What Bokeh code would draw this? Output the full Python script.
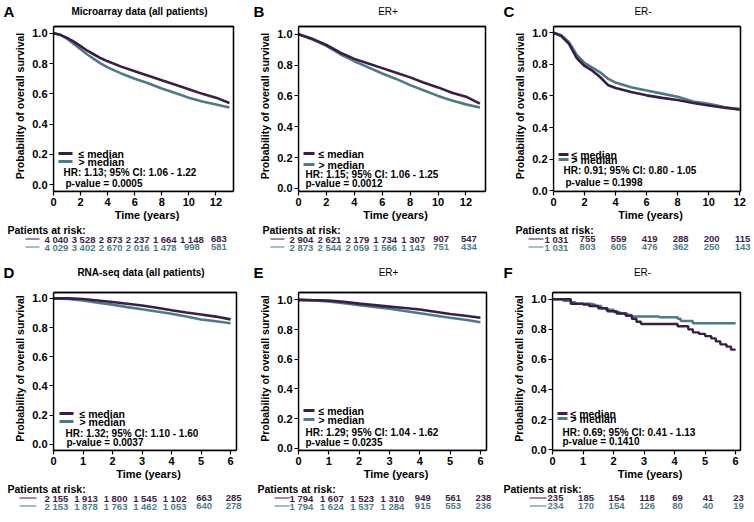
from bokeh.plotting import figure
from bokeh.layouts import row, column
from bokeh.models import Range1d, FixedTicker, NumeralTickFormatter, BoxAnnotation
from bokeh.core.properties import value
from bokeh.embed import file_html
from bokeh.resources import INLINE

PURPLE = "#3b1d48"
TEAL = "#4b7b8a"
FONT = "Liberation Sans"

# ---------------- data ----------------
# A: Microarray data (all patients)
a_time = [0, 0.5, 1, 1.5, 2, 2.5, 3, 3.5, 4, 5, 6, 7, 8, 9, 10, 11, 12, 13]
a_low = [1.0, 0.99, 0.97, 0.945, 0.915, 0.885, 0.86, 0.835, 0.815, 0.78, 0.75, 0.72, 0.69, 0.66, 0.63, 0.60, 0.575, 0.54]
a_high = [1.0, 0.99, 0.965, 0.93, 0.895, 0.86, 0.83, 0.80, 0.775, 0.735, 0.70, 0.67, 0.635, 0.605, 0.575, 0.55, 0.53, 0.51]
a_risk_times = [0, 2, 4, 6, 8, 10, 12]
a_risk_low = [4040, 3528, 2873, 2237, 1664, 1148, 683]
a_risk_high = [4029, 3402, 2670, 2016, 1478, 998, 581]

# B: ER+ (microarray)
b_time = [0, 1, 2, 3, 4, 5, 6, 7, 8, 9, 10, 11, 12, 13]
b_low = [1.0, 0.97, 0.93, 0.88, 0.84, 0.81, 0.78, 0.75, 0.72, 0.685, 0.655, 0.62, 0.595, 0.55]
b_high = [1.0, 0.965, 0.925, 0.87, 0.825, 0.785, 0.745, 0.71, 0.67, 0.635, 0.60, 0.57, 0.545, 0.525]
b_risk_times = [0, 2, 4, 6, 8, 10, 12]
b_risk_low = [2904, 2621, 2179, 1734, 1307, 907, 547]
b_risk_high = [2873, 2544, 2059, 1566, 1143, 751, 434]

# C: ER- (microarray)
c_time = [0, 0.5, 1, 1.5, 2, 2.5, 3, 3.5, 4, 5, 6, 7, 8, 9, 10, 11, 12]
c_low = [1.0, 0.98, 0.93, 0.84, 0.79, 0.76, 0.72, 0.67, 0.65, 0.625, 0.604, 0.588, 0.575, 0.555, 0.54, 0.525, 0.515]
c_high = [1.0, 0.985, 0.94, 0.86, 0.81, 0.78, 0.75, 0.71, 0.685, 0.655, 0.635, 0.615, 0.595, 0.565, 0.55, 0.53, 0.515]
c_risk_times = [0, 2, 4, 6, 8, 10, 12]
c_risk_low = [1031, 755, 559, 419, 288, 200, 115]
c_risk_high = [1031, 803, 605, 476, 362, 250, 143]

# D: RNA-seq data (all patients)
d_time = [0, 0.5, 1, 1.5, 2, 2.5, 3, 3.5, 4, 4.5, 5, 5.5, 6]
d_low = [1.0, 1.0, 0.995, 0.985, 0.975, 0.963, 0.951, 0.935, 0.918, 0.903, 0.889, 0.875, 0.856]
d_high = [1.0, 0.995, 0.985, 0.97, 0.957, 0.94, 0.925, 0.91, 0.895, 0.875, 0.855, 0.843, 0.83]
d_risk_times = [0, 1, 2, 3, 4, 5, 6]
d_risk_low = [2155, 1913, 1800, 1545, 1102, 663, 285]
d_risk_high = [2153, 1878, 1763, 1462, 1053, 640, 278]

# E: ER+ (RNA-seq)
e_time = [0, 0.5, 1, 1.5, 2, 2.5, 3, 3.5, 4, 4.5, 5, 5.5, 6]
e_low = [1.0, 0.998, 0.995, 0.987, 0.975, 0.965, 0.955, 0.945, 0.935, 0.92, 0.905, 0.893, 0.88]
e_high = [1.0, 0.997, 0.99, 0.978, 0.965, 0.953, 0.94, 0.925, 0.91, 0.895, 0.88, 0.866, 0.85]
e_risk_times = [0, 1, 2, 3, 4, 5, 6]
e_risk_low = [1794, 1607, 1523, 1310, 949, 561, 238]
e_risk_high = [1794, 1624, 1537, 1284, 915, 553, 236]

# F: ER- (RNA-seq), step curves
f_low_time = [0, 0.6, 1.0, 1.2, 1.5, 1.8, 2.1, 2.4, 2.6, 2.75, 2.9, 4.1, 4.45, 4.6, 4.8, 5.0, 5.2, 5.35, 5.5, 5.7, 5.85, 6.0]
f_low = [1.0, 0.97, 0.965, 0.955, 0.94, 0.92, 0.905, 0.89, 0.87, 0.85, 0.835, 0.82, 0.80, 0.78, 0.77, 0.755, 0.74, 0.72, 0.70, 0.685, 0.665, 0.665]
f_high_time = [0, 0.35, 0.6, 0.75, 1.3, 1.4, 1.6, 1.75, 2.0, 2.2, 2.45, 2.6, 3.5, 4.1, 4.2, 4.6, 6.0]
f_high = [1.0, 0.99, 0.98, 0.97, 0.965, 0.955, 0.94, 0.93, 0.915, 0.905, 0.895, 0.885, 0.88, 0.87, 0.855, 0.84, 0.84]
f_risk_times = [0, 1, 2, 3, 4, 5, 6]
f_risk_low = [235, 185, 154, 118, 69, 41, 23]
f_risk_high = [234, 170, 154, 126, 80, 40, 19]

y_ticks = [0, 0.2, 0.4, 0.6, 0.8, 1.0]
legend_labels = ["\u2264 median", "> median"]

panels = [
    dict(letter="A", title="Microarray data (all patients)", bold=True, geom=(53, 180, 17),
         lo=(a_time, a_low), hi=(a_time, a_high), step=False, xticks=[0, 2, 4, 6, 8, 10, 12], xmax=13.3,
         yr=(-0.045, 1.045), rt=a_risk_times, rl=a_risk_low, rh=a_risk_high,
         hr="HR: 1.13; 95% CI: 1.06 - 1.22", p="p-value = 0.0005",
         leg=(38, 30, 19, 8), legx=(5, 19, 25), hrx=(10, 12), pal=-46, swx=(-28, -14)),
    dict(letter="B", title="ER+", bold=False, geom=(48, 187, 15),
         lo=(b_time, b_low), hi=(b_time, b_high), step=False, xticks=[0, 2, 4, 6, 8, 10, 12], xmax=13.4,
         yr=(-0.02, 1.05), rt=b_risk_times, rl=b_risk_low, rh=b_risk_high,
         hr="HR: 1.15; 95% CI: 1.06 - 1.25", p="p-value = 0.0012",
         leg=(38, 27, 17, 8), legx=(5, 16, 20), hrx=(7, 7), pal=-36, swx=(-28, -14)),
    dict(letter="C", title="ER-", bold=False, geom=(53, 187, 14),
         lo=(c_time, c_low), hi=(c_time, c_high), step=False, xticks=[0, 2, 4, 6, 8, 10, 12], xmax=12.05,
         yr=(-0.005, 1.04), rt=c_risk_times, rl=c_risk_low, rh=c_risk_high,
         hr="HR: 0.91; 95% CI: 0.80 - 1.05", p="p-value = 0.1998",
         leg=(37, 32, 21, 9), legx=(5, 15, 18), hrx=(10, 12), pal=-38, swx=(-25, -10)),
    dict(letter="D", title="RNA-seq data (all patients)", bold=True, geom=(53, 183, 14),
         lo=(d_time, d_low), hi=(d_time, d_high), step=False, xticks=[0, 1, 2, 3, 4, 5, 6], xmax=6.2,
         yr=(-0.042, 1.04), rt=d_risk_times, rl=d_risk_low, rh=d_risk_high,
         hr="HR: 1.32; 95% CI: 1.10 - 1.60", p="p-value = 0.0037",
         leg=(37, 29, 17, 8), legx=(6, 20, 26), hrx=(12, 13), pal=-46, swx=(-34, -17)),
    dict(letter="E", title="ER+", bold=False, geom=(48, 188, 14),
         lo=(e_time, e_low), hi=(e_time, e_high), step=False, xticks=[0, 1, 2, 3, 4, 5, 6], xmax=6.2,
         yr=(-0.015, 1.05), rt=e_risk_times, rl=e_risk_low, rh=e_risk_high,
         hr="HR: 1.29; 95% CI: 1.04 - 1.62", p="p-value = 0.0235",
         leg=(40, 31, 18, 8), legx=(5, 16, 20), hrx=(7, 7), pal=-41, swx=(-24, -9)),
    dict(letter="F", title="ER-", bold=False, geom=(52, 188, 14),
         lo=(f_low_time, f_low), hi=(f_high_time, f_high), step=True, xticks=[0, 1, 2, 3, 4, 5, 6], xmax=6.16,
         yr=(-0.006, 1.045), rt=f_risk_times, rl=f_risk_low, rh=f_risk_high,
         hr="HR: 0.69; 95% CI: 0.41 - 1.13", p="p-value = 0.1410",
         leg=(37, 32, 18, 9), legx=(5, 15, 18), hrx=(10, 10), pal=-49, swx=(-23, -6)),
]

EXT_X, EXT_Y = 7, 6  # extra frame kept beyond the drawn box (right and top), px


def fmt(n):
    return f"{n:,}".replace(",", " ")


def blank(width, height, xr):
    f = figure(width=width, height=height, x_range=xr, y_range=Range1d(0, height),
               min_border=0, min_border_left=0, min_border_right=0,
               min_border_top=0, min_border_bottom=0, frame_align=False,
               x_axis_location=None, y_axis_location=None,
               output_backend="svg", toolbar_location=None, tools="")
    f.xgrid.visible = False
    f.ygrid.visible = False
    f.outline_line_color = None
    f.background_fill_color = "white"
    f.border_fill_color = "white"
    return f


def style_axis(ax):
    ax.axis_line_color = "black"
    ax.axis_line_width = 1.3
    ax.major_tick_line_color = "black"
    ax.major_tick_line_width = 1.2
    ax.major_tick_out = 4
    ax.major_tick_in = 0
    ax.minor_tick_line_color = None
    ax.minor_tick_out = 0
    ax.major_label_text_font = FONT
    ax.major_label_text_font_style = "bold"
    ax.major_label_text_font_size = "11px"
    ax.major_label_text_color = "black"
    ax.axis_label_text_font = FONT
    ax.axis_label_text_font_style = "bold"
    ax.axis_label_text_color = "black"


def make_panel(cfg, top_row):
    ML, FW, MR = cfg["geom"]            # FW = width of the drawn box
    W = ML + FW + MR
    hh = 20 if top_row else 34          # header height
    fh = 165 if top_row else 158        # box height
    th = 28                             # risk table height
    mb = 33
    xb0, xb1 = 0.0, cfg["xmax"]
    yb0, yb1 = cfg["yr"]
    dxp = (xb1 - xb0) / FW
    dyp = (yb1 - yb0) / fh

    def X(px):
        return xb0 + px * dxp

    def Y(py):
        return yb0 + py * dyp

    # ---- header: panel letter + title
    hdr = blank(W, hh, Range1d(0, W))
    lt_y = hh - (11 if top_row else 20)
    hdr.text(x=[3], y=[lt_y], text=[cfg["letter"]], text_font=value(FONT),
             text_font_style="bold", text_font_size="15px", text_color="black",
             text_align="left", text_baseline="middle")
    hdr.text(x=[ML + FW / 2 - 4], y=[lt_y], text=[cfg["title"]], text_font=value(FONT),
             text_font_style="bold" if cfg["bold"] else "normal",
             text_font_size="10px", text_color="black",
             text_align="center", text_baseline="middle")

    # ---- main Kaplan-Meier plot; the frame reaches EXT px beyond the box
    p = figure(width=W, height=fh + EXT_Y + mb,
               frame_width=FW + EXT_X, frame_height=fh + EXT_Y,
               min_border_left=ML, min_border_right=MR - EXT_X,
               min_border_top=0, min_border_bottom=mb, frame_align=False,
               x_range=Range1d(xb0, X(FW + EXT_X)), y_range=Range1d(yb0, Y(fh + EXT_Y)),
               output_backend="svg", toolbar_location=None, tools="")
    p.xgrid.visible = False
    p.ygrid.visible = False
    p.outline_line_color = None
    p.background_fill_color = "white"
    p.border_fill_color = "white"

    p.xaxis.ticker = FixedTicker(ticks=cfg["xticks"])
    p.yaxis.ticker = FixedTicker(ticks=y_ticks)
    p.yaxis.formatter = NumeralTickFormatter(format="0.0")
    style_axis(p.xaxis[0])
    style_axis(p.yaxis[0])
    p.xaxis.bounds = (xb0, xb1)
    p.yaxis.bounds = (yb0, yb1)
    p.xaxis.major_label_standoff = 2
    p.yaxis.major_label_standoff = 2
    p.yaxis.axis_label = "Probability of overall survival"
    p.yaxis.axis_label_text_font_size = "10.5px"
    p.yaxis.axis_label_standoff = 3
    p.xaxis.axis_label = "Time (years)"
    p.xaxis.axis_label_text_font_size = "11px"
    p.xaxis.axis_label_standoff = 0

    for (t, s), col in ((cfg["hi"], TEAL), (cfg["lo"], PURPLE)):
        if cfg["step"]:
            p.step(t, s, mode="after", line_color=col, line_width=2.4)
        else:
            p.line(t, s, line_color=col, line_width=2.6)

    # plot box: top and right edges
    p.segment(x0=[xb0, xb1], y0=[yb1, yb1], x1=[xb1, xb1], y1=[yb1, yb0],
              line_color="black", line_width=1.3)
    p.add_layout(BoxAnnotation(left=xb0, right=xb1, bottom=yb0, top=yb1,
                               fill_color=None, fill_alpha=0,
                               line_color="black", line_width=1.3, line_alpha=1))

    # legend inside the frame
    r1, r2, rhr, rp = cfg["leg"]
    sx0, sx1, tx = cfg["legx"]
    ys = [Y(r1), Y(r2)]
    p.segment(x0=[X(sx0)] * 2, x1=[X(sx1)] * 2, y0=ys, y1=ys,
              line_color=[PURPLE, TEAL], line_width=3)
    p.text(x=[X(tx)] * 2, y=ys, text=legend_labels, text_font=value(FONT),
           text_font_style="bold", text_font_size="10.5px", text_color="black",
           text_align="left", text_baseline="middle")
    p.text(x=[X(cfg["hrx"][0]), X(cfg["hrx"][1])], y=[Y(rhr), Y(rp)],
           text=[cfg["hr"], cfg["p"]], text_font=value(FONT),
           text_font_style="bold", text_font_size="10px", text_color="black",
           text_align="left", text_baseline="middle")

    # ---- risk table, same horizontal scale as the plot
    tb = blank(W, th, Range1d(X(-ML), X(FW + MR)))
    tb.text(x=[X(cfg["pal"])], y=[th - 5.5], text=["Patients at risk:"], text_font=value(FONT),
            text_font_style="bold", text_font_size="10.5px", text_color="black",
            text_align="left", text_baseline="middle")
    rws = (th - 14.5, th - 22.5)
    for ry, col, nums in ((rws[0], PURPLE, cfg["rl"]), (rws[1], TEAL, cfg["rh"])):
        tb.segment(x0=[X(cfg["swx"][0])], x1=[X(cfg["swx"][1])], y0=[ry], y1=[ry],
                   line_color=col, line_width=1.2)
        tb.text(x=cfg["rt"], y=[ry] * len(cfg["rt"]), text=[fmt(n) for n in nums],
                x_offset=3, text_font=value(FONT), text_font_style="bold",
                text_font_size="9.5px", text_color=col,
                text_align="center", text_baseline="middle")
    return column(hdr, p, tb, spacing=0)


cols = [make_panel(c, i < 3) for i, c in enumerate(panels)]
layout = column(row(*cols[0:3], spacing=0), row(*cols[3:6], spacing=0), spacing=0)

open("out.html", "w").write(file_html(layout, INLINE))
